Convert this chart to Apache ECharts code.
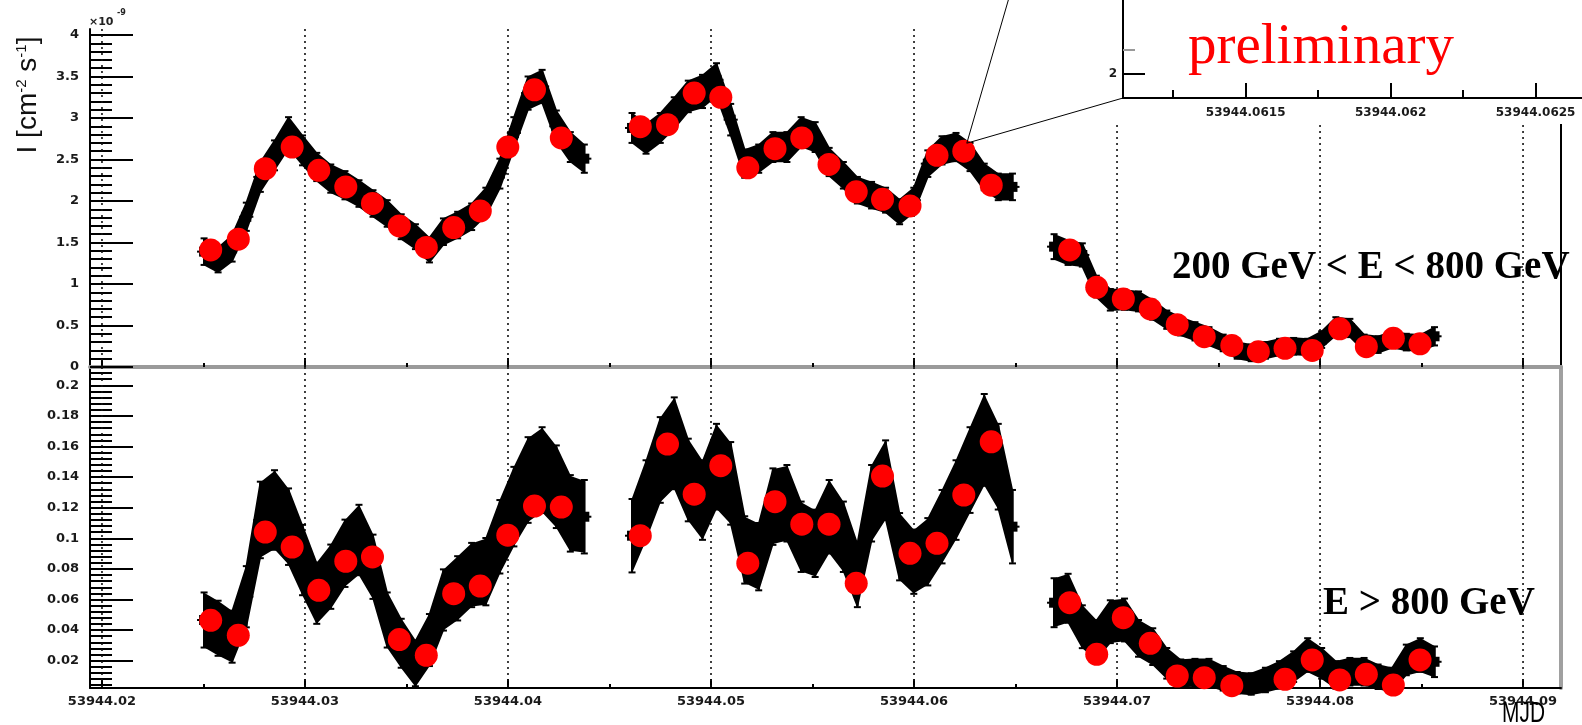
<!DOCTYPE html>
<html>
<head>
<meta charset="utf-8">
<script src="https://cdn.jsdelivr.net/npm/echarts@6/dist/echarts.min.js"></script>
<style>
  html, body { margin: 0; padding: 0; background: #fff; }
  #chart { width: 1582px; height: 725px; }
</style>
</head>
<body>
<div id="chart"></div>
<script>
// ---- 1-minute light curve (MJD), three observation runs ----
const blackTimes = [
  53944.02503, 53944.02572, 53944.02641, 53944.02711, 53944.02780, 53944.02850, 53944.02919,
  53944.02988, 53944.03058, 53944.03127, 53944.03197, 53944.03266, 53944.03335, 53944.03405,
  53944.03474, 53944.03544, 53944.03613, 53944.03682, 53944.03752, 53944.03821, 53944.03891,
  53944.03960, 53944.04029, 53944.04099, 53944.04168, 53944.04238, 53944.04307, 53944.04376,
  53944.04611, 53944.04680, 53944.04750, 53944.04819, 53944.04888, 53944.04958, 53944.05027,
  53944.05097, 53944.05166, 53944.05235, 53944.05305, 53944.05374, 53944.05444, 53944.05513,
  53944.05582, 53944.05652, 53944.05721, 53944.05791, 53944.05860, 53944.05929, 53944.05999,
  53944.06068, 53944.06138, 53944.06207, 53944.06276, 53944.06346, 53944.06415, 53944.06485,
  53944.06690, 53944.06759, 53944.06829, 53944.06898, 53944.06967, 53944.07037, 53944.07106,
  53944.07176, 53944.07245, 53944.07314, 53944.07384, 53944.07453, 53944.07523, 53944.07592,
  53944.07661, 53944.07731, 53944.07800, 53944.07870, 53944.07939, 53944.08008, 53944.08078,
  53944.08147, 53944.08217, 53944.08286, 53944.08355, 53944.08425, 53944.08494, 53944.08564
];
// 200 GeV < E < 800 GeV, units of 1e-9 cm^-2 s^-1
const fluxLowE = [
  1.39, 1.29, 1.43, 1.81, 2.29, 2.55, 2.82, 2.61, 2.41, 2.27, 2.19, 2.09, 1.97, 1.85,
  1.69, 1.57, 1.41, 1.63, 1.71, 1.81, 1.99, 2.33, 2.82, 3.30, 3.38, 2.90, 2.65, 2.51,
  2.88, 2.75, 2.88, 3.06, 3.26, 3.32, 3.46, 2.98, 2.45, 2.51, 2.65, 2.65, 2.83, 2.77,
  2.47, 2.31, 2.13, 2.07, 2.01, 1.87, 2.01, 2.45, 2.61, 2.65, 2.53, 2.29, 2.17, 2.17,
  1.45, 1.38, 1.35, 0.97, 0.81, 0.81, 0.79, 0.69, 0.57, 0.49, 0.43, 0.37, 0.29, 0.20,
  0.17, 0.20, 0.24, 0.25, 0.24, 0.33, 0.49, 0.47, 0.29, 0.27, 0.33, 0.30, 0.29, 0.37
];
const errLowE = [
  0.16, 0.15, 0.16, 0.17, 0.18, 0.18, 0.19, 0.18, 0.17, 0.17, 0.17, 0.16, 0.16, 0.16,
  0.15, 0.15, 0.15, 0.16, 0.16, 0.16, 0.17, 0.18, 0.19, 0.20, 0.20, 0.19, 0.18, 0.17,
  0.18, 0.18, 0.18, 0.19, 0.19, 0.20, 0.20, 0.19, 0.17, 0.17, 0.18, 0.18, 0.18, 0.18,
  0.17, 0.16, 0.16, 0.16, 0.15, 0.15, 0.15, 0.16, 0.17, 0.17, 0.17, 0.16, 0.16, 0.16,
  0.15, 0.15, 0.14, 0.13, 0.13, 0.12, 0.12, 0.12, 0.11, 0.11, 0.11, 0.11, 0.10, 0.10,
  0.10, 0.10, 0.10, 0.10, 0.10, 0.10, 0.11, 0.11, 0.10, 0.10, 0.10, 0.10, 0.10, 0.11
];
// E > 800 GeV, units of 1e-9 cm^-2 s^-1
const fluxHighE = [
  0.0466, 0.0412, 0.0357, 0.0618, 0.1120, 0.1185, 0.1076, 0.0858, 0.0641, 0.0749, 0.0902, 0.0989, 0.0814, 0.0466,
  0.0314, 0.0183, 0.0335, 0.0597, 0.0673, 0.0760, 0.0782, 0.1010, 0.1207, 0.1381, 0.1446, 0.1337, 0.1163, 0.1141,
  0.1017, 0.1250, 0.1512, 0.1621, 0.1381, 0.1250, 0.1468, 0.1359, 0.0924, 0.0880, 0.1207, 0.1229, 0.1010, 0.0967,
  0.1141, 0.1010, 0.0760, 0.1229, 0.1380, 0.0945, 0.0847, 0.0912, 0.1076, 0.1250, 0.1446, 0.1643, 0.1468, 0.1076,
  0.0579, 0.0608, 0.0422, 0.0335, 0.0455, 0.0466, 0.0346, 0.0292, 0.0183, 0.0118, 0.0122, 0.0122, 0.0085, 0.0056,
  0.0048, 0.0074, 0.0107, 0.0161, 0.0237, 0.0183, 0.0107, 0.0128, 0.0128, 0.0095, 0.0074, 0.0205, 0.0237, 0.0193
];
const errHighE = [
  0.018, 0.018, 0.017, 0.020, 0.025, 0.026, 0.025, 0.023, 0.020, 0.021, 0.022, 0.023, 0.021, 0.018,
  0.016, 0.015, 0.017, 0.020, 0.021, 0.021, 0.022, 0.024, 0.026, 0.028, 0.028, 0.027, 0.025, 0.024,
  0.024, 0.026, 0.028, 0.030, 0.027, 0.026, 0.028, 0.027, 0.022, 0.022, 0.025, 0.025, 0.023, 0.022,
  0.024, 0.023, 0.021, 0.025, 0.026, 0.022, 0.021, 0.022, 0.024, 0.026, 0.028, 0.030, 0.028, 0.024,
  0.016, 0.016, 0.014, 0.013, 0.014, 0.014, 0.012, 0.012, 0.010, 0.009, 0.009, 0.009, 0.008, 0.007,
  0.007, 0.008, 0.009, 0.010, 0.011, 0.010, 0.009, 0.009, 0.009, 0.008, 0.008, 0.010, 0.011, 0.010
];

// ---- coarser bins (red markers) ----
const binnedTimes = [
  53944.025355, 53944.026714, 53944.028044, 53944.029369, 53944.030680, 53944.032010, 53944.033325,
  53944.034645, 53944.035975, 53944.037325, 53944.038635, 53944.039990, 53944.041305, 53944.042626,
  53944.046517, 53944.047857, 53944.049172, 53944.050483, 53944.051813, 53944.053153, 53944.054473,
  53944.055813, 53944.057153, 53944.058448, 53944.059803, 53944.061133, 53944.062453, 53944.063803,
  53944.067670, 53944.069000, 53944.070310, 53944.071640, 53944.072966, 53944.074296, 53944.075655,
  53944.076961, 53944.078276, 53944.079616, 53944.080970, 53944.082281, 53944.083611, 53944.084926
];
const binnedLowE = [
  1.41, 1.54, 2.39, 2.65, 2.37, 2.17, 1.97, 1.70, 1.44, 1.68, 1.88, 2.65, 3.34, 2.76,
  2.895, 2.92, 3.30, 3.25, 2.40, 2.63, 2.76, 2.44, 2.11, 2.02, 1.94, 2.55, 2.60, 2.19,
  1.41, 0.96, 0.82, 0.70, 0.51, 0.365, 0.26, 0.185, 0.225, 0.20, 0.46, 0.245, 0.345, 0.28
];
const binnedHighE = [
  0.0464, 0.0366, 0.1041, 0.0943, 0.0660, 0.0850, 0.0878, 0.0338, 0.0235, 0.0638, 0.0688, 0.1020, 0.1211, 0.1204,
  0.1017, 0.1616, 0.1288, 0.1475, 0.0837, 0.1239, 0.1092, 0.1092, 0.0706, 0.1407, 0.0902, 0.0967, 0.1283, 0.1631,
  0.0579, 0.0242, 0.0481, 0.0314, 0.0100, 0.0089, 0.0037, 0.0020, 0.0078, 0.0205, 0.0074, 0.0111, 0.0041, 0.0205
];

// ---- axis ticks ----
const mjdTicks = [53944.02, 53944.03, 53944.04, 53944.05, 53944.06, 53944.07, 53944.08, 53944.09];
const mjdMinorTicks = [53944.025, 53944.035, 53944.045, 53944.055, 53944.065, 53944.075, 53944.085];
const lowETicks = [0, 0.5, 1, 1.5, 2, 2.5, 3, 3.5, 4];
const highETicks = [0.02, 0.04, 0.06, 0.08, 0.1, 0.12, 0.14, 0.16, 0.18, 0.2];
const insetTicks = [53944.0615, 53944.062, 53944.0625];
const insetMinorTicks = [53944.06125, 53944.06175, 53944.06225];
const insetYTicks = [2];
const insetYMinorTicks = [2.1];

function steps(from, to, step) {
  const out = [];
  for (let v = from; v <= to + 1e-9; v += step) out.push(+v.toFixed(6));
  return out;
}
const lowEMinor = steps(0.1, 4.0, 0.1);
const highEMinor = steps(0.004, 0.208, 0.004);

const X_MIN = 53944.01941, X_MAX = 53944.09187;
const LOW_MAX = 4.0723;
const HIGH_MIN = 0.00216, HIGH_MAX = 0.21196;
const INSET_X_MIN = 53944.061077, INSET_X_MAX = 53944.06266;
const INSET_Y_MIN = 1.9, INSET_Y_MAX = 2.308;
const HALF_BIN = 0.000347;
const CORE = 0.95;

const TICK_FONT = { fontFamily: 'DejaVu Sans', fontWeight: 'bold', fontSize: 13, color: '#1a1a1a' };

function xAxisBase(grid, extra) {
  return Object.assign({
    type: 'value', gridIndex: grid, min: X_MIN, max: X_MAX, position: 'bottom',
    axisLine: { show: false }, axisLabel: { show: false }, splitLine: { show: false },
    axisTick: { show: false }
  }, extra);
}
function yAxisBase(grid, min, max, extra) {
  return Object.assign({
    type: 'value', gridIndex: grid, min: min, max: max, position: 'left',
    axisLine: { show: false }, axisLabel: { show: false }, splitLine: { show: false },
    axisTick: { show: false }
  }, extra);
}

// error bars + filled band joining neighbouring 1-minute bins
function bandRenderer(vals, errs) {
  return function (params, api) {
    const i = params.dataIndex;
    const t = api.value(0), v = api.value(1), e = api.value(2);
    const c = api.coord([t, v]);
    const up = api.coord([t, v + e]);
    const dn = api.coord([t, v - e]);
    const hw = Math.abs(api.size([HALF_BIN, 0])[0]);
    const kids = [];
    if (i + 1 < blackTimes.length && blackTimes[i + 1] - t < 0.0015) {
      const tn = blackTimes[i + 1], vn = vals[i + 1], en = errs[i + 1];
      kids.push({
        type: 'polygon',
        shape: { points: [
          api.coord([t, v + CORE * e]), api.coord([tn, vn + CORE * en]),
          api.coord([tn, vn - CORE * en]), api.coord([t, v - CORE * e])
        ] },
        style: { fill: '#000', stroke: '#000', lineWidth: 2, lineJoin: 'round' }
      });
    }
    const st = { stroke: '#000', lineWidth: 2 };
    kids.push({ type: 'line', shape: { x1: c[0], y1: up[1], x2: c[0], y2: dn[1] }, style: st });
    kids.push({ type: 'line', shape: { x1: c[0] - 3.5, y1: up[1], x2: c[0] + 3.5, y2: up[1] }, style: st });
    kids.push({ type: 'line', shape: { x1: c[0] - 3.5, y1: dn[1], x2: c[0] + 3.5, y2: dn[1] }, style: st });
    kids.push({ type: 'line', shape: { x1: c[0] - hw, y1: c[1], x2: c[0] + hw, y2: c[1] }, style: st });
    kids.push({ type: 'rect', shape: { x: c[0] - 5, y: c[1] - 5, width: 10, height: 10 }, style: { fill: '#000' } });
    return { type: 'group', children: kids };
  };
}

// dotted vertical grid at the major MJD ticks
function gridRenderer(yMin, yMax) {
  return function (params, api) {
    const t = api.value(0);
    const a = api.coord([t, yMax]);
    const b = api.coord([t, yMin]);
    return {
      type: 'line',
      shape: { x1: a[0], y1: a[1], x2: b[0], y2: b[1] },
      style: { stroke: '#111', lineWidth: 1.6, lineDash: [2, 4] }
    };
  };
}

const chart = echarts.init(document.getElementById('chart'));

const option = {
  backgroundColor: '#fff',
  animation: false,
  grid: [
    { left: 90, right: 21, top: 29, height: 338 },
    { left: 90, right: 21, top: 367, height: 321 },
    { left: 1123, top: 0, width: 459, height: 98, z: 11 }
  ],
  xAxis: [
    // top panel
    xAxisBase(0, { axisLine: { show: true, lineStyle: { color: '#000', width: 2 } },
      axisTick: { show: true, inside: true, length: 9, customValues: mjdTicks, lineStyle: { color: '#000', width: 2 } } }),
    xAxisBase(0, { axisTick: { show: true, inside: true, length: 4, customValues: mjdMinorTicks, lineStyle: { color: '#000', width: 2 } } }),
    xAxisBase(0, { position: 'top', axisLine: { show: true, lineStyle: { color: '#9a9a9a', width: 4 } } }),
    // bottom panel
    xAxisBase(1, { axisLine: { show: true, lineStyle: { color: '#000', width: 2 } },
      axisTick: { show: true, inside: true, length: 9, customValues: mjdTicks, lineStyle: { color: '#000', width: 2 } },
      axisLabel: Object.assign({ show: true, customValues: mjdTicks, margin: 7,
        formatter: function (v) { return v.toFixed(2); } }, TICK_FONT) }),
    xAxisBase(1, { axisTick: { show: true, inside: true, length: 4, customValues: mjdMinorTicks, lineStyle: { color: '#000', width: 2 } } }),
    // inset
    { type: 'value', gridIndex: 2, min: INSET_X_MIN, max: INSET_X_MAX, position: 'bottom', z: 11,
      axisLine: { show: true, lineStyle: { color: '#000', width: 2 } }, splitLine: { show: false },
      axisTick: { show: true, inside: true, length: 15, customValues: insetTicks, lineStyle: { color: '#000', width: 2 } },
      axisLabel: Object.assign({ show: true, customValues: insetTicks, margin: 9,
        formatter: function (v) { return String(+v.toFixed(4)); } }, TICK_FONT, { fontSize: 12 }) },
    { type: 'value', gridIndex: 2, min: INSET_X_MIN, max: INSET_X_MAX, position: 'bottom', z: 11,
      axisLine: { show: false }, splitLine: { show: false }, axisLabel: { show: false },
      axisTick: { show: true, inside: true, length: 8, customValues: insetMinorTicks, lineStyle: { color: '#000', width: 2 } } }
  ],
  yAxis: [
    // top panel
    yAxisBase(0, 0, LOW_MAX, { axisLine: { show: true, lineStyle: { color: '#000', width: 2 } },
      axisTick: { show: true, inside: true, length: 43, customValues: lowETicks, lineStyle: { color: '#000', width: 2 } },
      axisLabel: Object.assign({ show: true, customValues: lowETicks, margin: 11,
        formatter: function (v) { return String(v); } }, TICK_FONT) }),
    yAxisBase(0, 0, LOW_MAX, { axisTick: { show: true, inside: true, length: 22, customValues: lowEMinor, lineStyle: { color: '#000', width: 2 } } }),
    yAxisBase(0, 0, LOW_MAX, { position: 'right', axisLine: { show: true, lineStyle: { color: '#000', width: 2 } } }),
    // bottom panel
    yAxisBase(1, HIGH_MIN, HIGH_MAX, { axisLine: { show: true, lineStyle: { color: '#000', width: 2 } },
      axisTick: { show: true, inside: true, length: 43, customValues: highETicks, lineStyle: { color: '#000', width: 2 } },
      axisLabel: Object.assign({ show: true, customValues: highETicks, margin: 11,
        formatter: function (v) { return String(+v.toFixed(2)); } }, TICK_FONT) }),
    yAxisBase(1, HIGH_MIN, HIGH_MAX, { axisTick: { show: true, inside: true, length: 22, customValues: highEMinor, lineStyle: { color: '#000', width: 2 } } }),
    yAxisBase(1, HIGH_MIN, HIGH_MAX, { position: 'right', axisLine: { show: true, lineStyle: { color: '#a0a0a0', width: 4 } } }),
    // inset
    { type: 'value', gridIndex: 2, min: INSET_Y_MIN, max: INSET_Y_MAX, position: 'left', z: 11,
      axisLine: { show: true, lineStyle: { color: '#000', width: 2 } }, splitLine: { show: false },
      axisTick: { show: true, inside: true, length: 22, customValues: insetYTicks, lineStyle: { color: '#000', width: 2 } },
      axisLabel: Object.assign({ show: true, customValues: insetYTicks, margin: 6 }, TICK_FONT, { fontSize: 12 }) },
    { type: 'value', gridIndex: 2, min: INSET_Y_MIN, max: INSET_Y_MAX, position: 'left', z: 11,
      axisLine: { show: false }, splitLine: { show: false }, axisLabel: { show: false },
      axisTick: { show: true, inside: true, length: 12, customValues: insetYMinorTicks, lineStyle: { color: '#999', width: 2 } } }
  ],
  series: [
    { type: 'custom', name: 'grid-top', xAxisIndex: 0, yAxisIndex: 0, z: 1, silent: true,
      data: mjdTicks.map(function (t) { return [t]; }), encode: { x: 0 },
      renderItem: gridRenderer(0, LOW_MAX) },
    { type: 'custom', name: 'grid-bottom', xAxisIndex: 3, yAxisIndex: 3, z: 1, silent: true,
      data: mjdTicks.map(function (t) { return [t]; }), encode: { x: 0 },
      renderItem: gridRenderer(HIGH_MIN, HIGH_MAX) },
    { type: 'custom', name: '200 GeV < E < 800 GeV, 1 min', xAxisIndex: 0, yAxisIndex: 0, z: 3, silent: true,
      data: blackTimes.map(function (t, i) { return [t, fluxLowE[i], errLowE[i]]; }),
      encode: { x: 0, y: 1 }, renderItem: bandRenderer(fluxLowE, errLowE) },
    { type: 'custom', name: 'E > 800 GeV, 1 min', xAxisIndex: 3, yAxisIndex: 3, z: 3, silent: true,
      data: blackTimes.map(function (t, i) { return [t, fluxHighE[i], errHighE[i]]; }),
      encode: { x: 0, y: 1 }, renderItem: bandRenderer(fluxHighE, errHighE) },
    { type: 'scatter', name: '200 GeV < E < 800 GeV', xAxisIndex: 0, yAxisIndex: 0, z: 4, silent: true,
      symbol: 'circle', symbolSize: 23, itemStyle: { color: '#ff0000', opacity: 1 },
      data: binnedTimes.map(function (t, i) { return [t, binnedLowE[i]]; }) },
    { type: 'scatter', name: 'E > 800 GeV', xAxisIndex: 3, yAxisIndex: 3, z: 4, silent: true,
      symbol: 'circle', symbolSize: 23, itemStyle: { color: '#ff0000', opacity: 1 },
      data: binnedTimes.map(function (t, i) { return [t, binnedHighE[i]]; }) }
  ]
};
chart.setOption(option);

// leader lines from the zoomed peak to the inset frame
const PEAK = 26;
const peakPx = chart.convertToPixel({ xAxisIndex: 0, yAxisIndex: 0 }, [binnedTimes[PEAK], binnedLowE[PEAK]]);
const tip = [peakPx[0] + 3, peakPx[1] - 8];
const corner = chart.convertToPixel({ xAxisIndex: 5, yAxisIndex: 6 }, [INSET_X_MIN, INSET_Y_MIN]);

chart.setOption({
  graphic: [
    { type: 'rect', z: 10, silent: true, shape: { x: 1018, y: 0, width: 564, height: 124 }, style: { fill: '#fff' } },
    { type: 'line', z: 12, silent: true, shape: { x1: tip[0], y1: tip[1], x2: 1009.5, y2: -4 }, style: { stroke: '#000', lineWidth: 1 } },
    { type: 'line', z: 12, silent: true, shape: { x1: tip[0], y1: tip[1], x2: corner[0], y2: corner[1] }, style: { stroke: '#000', lineWidth: 1 } },
    { type: 'text', z: 12, silent: true, x: 1188, y: 48,
      style: { text: 'preliminary', fill: '#ff0000', font: '57px "Liberation Serif"', verticalAlign: 'middle' } },
    { type: 'text', z: 12, silent: true, x: 1172, y: 268,
      style: { text: '200 GeV < E < 800 GeV', fill: '#000', font: 'bold 39px "Liberation Serif"', verticalAlign: 'middle' } },
    { type: 'text', z: 12, silent: true, x: 1323, y: 604,
      style: { text: 'E > 800 GeV', fill: '#000', font: 'bold 39px "Liberation Serif"', verticalAlign: 'middle' } },
    { type: 'text', z: 12, silent: true, x: 1545, y: 714, scaleX: 0.72, originX: 0, originY: 0,
      style: { text: 'MJD', fill: '#000', font: '29px "Liberation Sans"', align: 'right', verticalAlign: 'middle' } },
    { type: 'text', z: 12, silent: true, x: 89, y: 22,
      style: { text: '×10', fill: '#222', font: 'bold 11px "DejaVu Sans"', verticalAlign: 'middle' } },
    { type: 'text', z: 12, silent: true, x: 117, y: 13,
      style: { text: '-9', fill: '#222', font: 'bold 8px "DejaVu Sans"', verticalAlign: 'middle' } },
    { type: 'text', z: 12, silent: true, x: 28, y: 95, rotation: Math.PI / 2,
      style: {
        text: 'I [cm{s|-2} s{s|-1}]', fill: '#111', font: '28px "Liberation Sans"',
        align: 'center', verticalAlign: 'middle',
        rich: { s: { fontSize: 15, fontFamily: 'Liberation Sans', fill: '#111', verticalAlign: 'top', padding: [0, 0, 12, 0] } }
      } }
  ]
});
</script>
</body>
</html>
